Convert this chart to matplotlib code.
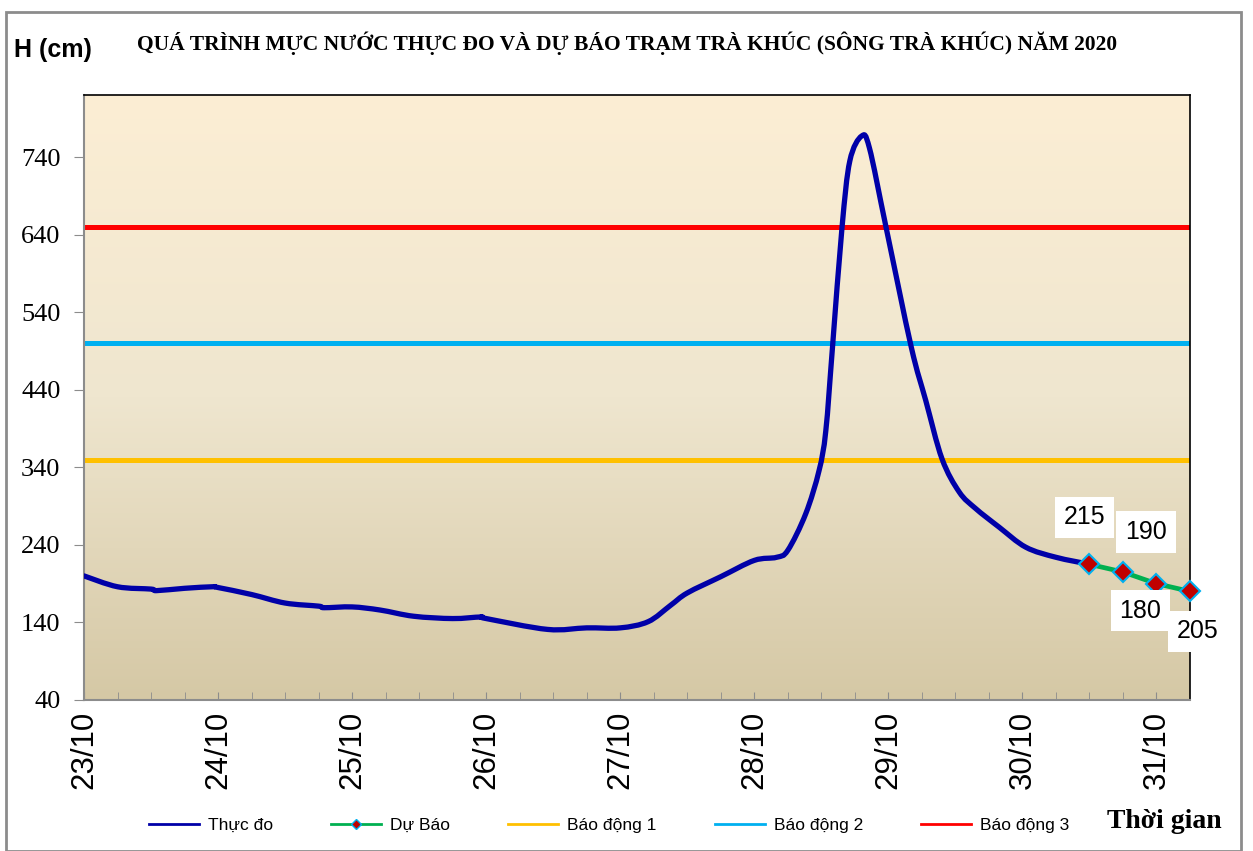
import numpy as np
import matplotlib
matplotlib.use('Agg')
import matplotlib.pyplot as plt
from matplotlib.colors import LinearSegmentedColormap
from matplotlib.patches import Rectangle, PathPatch
from matplotlib.lines import Line2D
from matplotlib.path import Path

# ===== dữ liệu (giờ tính từ 00h 23/10) =====
gio_thuc_do = [0, 6, 12, 13, 18, 23, 24, 30, 36, 42, 43, 48, 53, 59, 66, 71, 72,
               83, 90, 96, 101, 105, 108, 114, 120, 124, 126, 129.2, 131.6, 132.8,
               134, 135.7, 137.1, 139.2, 140.6, 143.6, 148.1, 150.7, 153.6, 156.7,
               159.6, 163.8, 168.6, 174, 180]
muc_thuc_do = [200, 186, 183, 181, 184, 186, 185, 176, 165, 161, 159, 160, 156,
               148, 145, 147, 145, 131, 133, 133, 141, 162, 178, 199, 220, 224,
               233, 280, 336, 387, 495, 649, 735, 767, 752, 649, 495, 426, 351,
               308, 287, 263, 237, 224, 215]

gio_du_bao = [180, 186, 192, 198]
muc_du_bao = [215, 205, 190, 180]
nhan_du_bao = ['215', '190', '180', '205']

bao_dong = [350, 500, 650]
ten_bao_dong = ['Báo động 1', 'Báo động 2', 'Báo động 3']
mau_bao_dong = ['#FFC000', '#00B0F0', '#FF0000']

ngay_labels = ['23/10', '24/10', '25/10', '26/10', '27/10', '28/10', '29/10', '30/10', '31/10']
y_ticks = [40, 140, 240, 340, 440, 540, 640, 740]

SERIF = ['Liberation Serif', 'DejaVu Serif']
SANS = ['Liberation Sans', 'DejaVu Sans']


def duong_muot(x, y):
    # đường cong Bezier kiểu "smoothed line" của Excel
    p = np.column_stack([x, y]).astype(float)
    verts = [p[0]]
    codes = [Path.MOVETO]
    n = len(p)
    for i in range(n - 1):
        p0 = p[i - 1] if i > 0 else p[i]
        p3 = p[i + 2] if i + 2 < n else p[i + 1]
        c1 = p[i] + (p[i + 1] - p0) / 6
        c2 = p[i + 1] - (p3 - p[i]) / 6
        verts += [c1, c2, p[i + 1]]
        codes += [Path.CURVE4] * 3
    return Path(verts, codes)


fig = plt.figure(figsize=(12.53, 8.51), dpi=100)
fig.patch.set_facecolor('white')
fig.patches.append(Rectangle((6 / 1253, 0), 1235 / 1253, 1 - 12 / 851,
                             transform=fig.transFigure, fill=False,
                             edgecolor='#8C8C8C', linewidth=2))

ax = fig.add_axes([84 / 1253, 1 - 700 / 851, (1190 - 84) / 1253, (700 - 95) / 851])

# nền chuyển màu
cmap = LinearSegmentedColormap.from_list('nen', ['#D5C8A5', '#EFE6CF', '#FCEED4'])
grad = np.linspace(0, 1, 256).reshape(-1, 1)
ax.imshow(grad, extent=[0, 1, 0, 1], transform=ax.transAxes, aspect='auto',
          cmap=cmap, origin='lower', zorder=0)

for y, c in zip(bao_dong, mau_bao_dong):
    ax.axhline(y, color=c, linewidth=3.6, zorder=2)

ax.add_patch(PathPatch(duong_muot(gio_thuc_do, muc_thuc_do), fill=False,
                       edgecolor='#0000A8', linewidth=3.8, capstyle='round',
                       joinstyle='round', zorder=3))
ax.plot(gio_du_bao, muc_du_bao, color='#00B050', linewidth=3.4, zorder=4,
        marker='D', markersize=10, markerfacecolor='#C00000',
        markeredgecolor='#00B0F0', markeredgewidth=1.5, clip_on=False)

# nhãn dự báo
offsets = [(-5, 47), (23, 40), (-16, -27), (8, -40)]
for x, y, t, (dx, dy) in zip(gio_du_bao, muc_du_bao, nhan_du_bao, offsets):
    ax.annotate(t, (x, y), xytext=(dx, dy), textcoords='offset pixels',
                ha='center', va='center', fontsize=18, family=SANS,
                bbox=dict(boxstyle='square,pad=0.35', fc='white', ec='none'),
                zorder=6, annotation_clip=False)

ax.set_xlim(0, 198)
ax.set_ylim(40, 820)
ax.set_xticks(np.arange(0, 198, 24))
ax.set_xticklabels(ngay_labels, rotation=90, fontsize=22.5, family=SANS)
ax.set_xticks(np.arange(0, 198, 6), minor=True)
ax.tick_params(axis='x', which='both', direction='in', length=6, color='#8C8C8C',
               pad=8)
ax.set_yticks(y_ticks)
ax.set_yticklabels([str(v) for v in y_ticks], fontsize=19, family=SERIF)
ax.tick_params(axis='y', direction='out', length=7, color='#8C8C8C', pad=10)

for s in ['left', 'bottom']:
    ax.spines[s].set_color('#8C8C8C')
    ax.spines[s].set_linewidth(1.5)
for s in ['top', 'right']:
    ax.spines[s].set_color('black')
    ax.spines[s].set_linewidth(1.2)

fig.text(14 / 1253, 1 - 50 / 851, 'H (cm)', fontsize=18, fontweight='bold',
         family=SANS, va='center', ha='left')
fig.text(627 / 1253, 1 - 43 / 851,
         'QUÁ TRÌNH MỰC NƯỚC THỰC ĐO VÀ DỰ BÁO TRẠM TRÀ KHÚC (SÔNG TRÀ KHÚC) NĂM 2020',
         fontsize=15.5, fontweight='bold', family=SERIF, ha='center', va='center')
fig.text(1222 / 1253, 1 - 822 / 851, 'Thời gian', fontsize=20, fontweight='bold',
         family=SERIF, ha='right', va='center')

handles = [Line2D([], [], color='#0000A8', linewidth=2),
           Line2D([], [], color='#00B050', linewidth=2, marker='D', markersize=5,
                  markerfacecolor='#C00000', markeredgecolor='#00B0F0')]
handles += [Line2D([], [], color=c, linewidth=2) for c in mau_bao_dong]
labels = ['Thực đo', 'Dự Báo'] + ten_bao_dong
fig.legend(handles, labels, loc='center left', bbox_to_anchor=(133 / 1253, 1 - 825 / 851),
           ncol=5, frameon=False, prop={'family': SANS, 'size': 12.5},
           handlelength=2.9, handletextpad=0.5, columnspacing=3.35)

fig.savefig('out.png', dpi=100)
